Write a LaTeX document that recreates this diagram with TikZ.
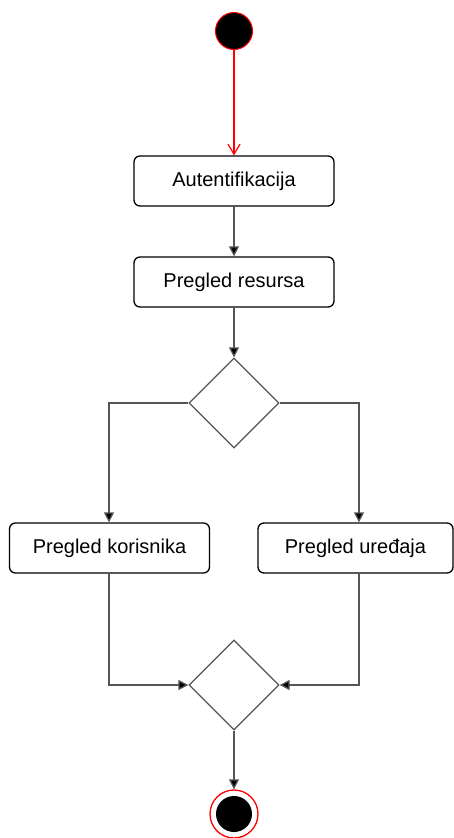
\documentclass[tikz,border=0pt]{standalone}
\usepackage{fontspec}
\setmainfont{Liberation Sans}
\usetikzlibrary{shapes.geometric,arrows.meta}
\definecolor{linegray}{HTML}{555555}
\begin{document}
\begin{tikzpicture}[x=1pt,y=-1pt,
  actbox/.style={draw=black,rounded corners=6pt,line width=1.3pt,minimum width=200pt,minimum height=50pt,inner sep=0pt,font=\fontsize{20}{24}\selectfont},
  decision/.style={draw=linegray,diamond,line width=1.3pt,minimum width=90pt,minimum height=90pt,inner sep=0pt},
  flow/.style={draw=linegray,line width=1.3pt,-{Triangle[length=10pt,width=10pt,fill=black]}}]
\useasboundingbox (0,0) rectangle (454,838);
\fill[white] (0,0) rectangle (454,838);
\node[circle,fill=black,draw=red,line width=1pt,minimum size=37pt,inner sep=0pt] (start) at (234,31) {};
\node[actbox] (auth) at (234,181) {Autentifikacija};
\node[actbox] (res) at (234,282) {Pregled resursa};
\node[decision] (d1) at (234,403) {};
\node[actbox] (kor) at (109.5,548) {Pregled korisnika};
\node[actbox,minimum width=195pt] (ure) at (355.5,548) {Pregled uređaja};
\node[decision] (d2) at (234,685) {};
\node[circle,draw=red,line width=1.3pt,fill=white,minimum size=48pt,inner sep=0pt] (endo) at (234,814) {};
\node[circle,fill=black,minimum size=36pt,inner sep=0pt] (endi) at (234,814) {};
\coordinate (kx) at (109,548);
\coordinate (ux) at (359,548);
\draw[red,line width=1.2pt,-{Straight Barb[length=10pt,width=12pt]}] (start.south) -- (auth.north);
\draw[flow] (auth.south) -- (res.north);
\draw[flow] (res.south) -- (d1.north);
\draw[flow] (d1.west) -| (kx |- kor.north);
\draw[flow] (d1.east) -| (ux |- ure.north);
\draw[flow] (kx |- kor.south) |- (d2.west);
\draw[flow] (ux |- ure.south) |- (d2.east);
\draw[flow] (d2.south) -- (endo.north);
\end{tikzpicture}
\end{document}
